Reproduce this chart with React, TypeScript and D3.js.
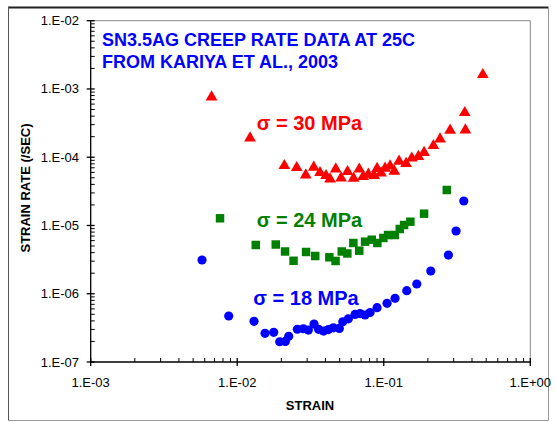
import React from "react";
import * as d3 from "d3";

const xTicks = [1e-3, 1e-2, 1e-1, 1];
const xTickLabels = ["1.E-03", "1.E-02", "1.E-01", "1.E+00"];
const yTicks = [1e-7, 1e-6, 1e-5, 1e-4, 1e-3, 1e-2];
const yTickLabels = ["1.E-07", "1.E-06", "1.E-05", "1.E-04", "1.E-03", "1.E-02"];

const titleLines = ["SN3.5AG CREEP RATE DATA AT 25C", "FROM KARIYA ET AL., 2003"];

// sigma = 30 MPa (red triangles)
const strain30 = [0.00668, 0.01223, 0.02097, 0.02547, 0.02935, 0.03328, 0.03674, 0.04037, 0.04298, 0.04703,
  0.05111, 0.0566, 0.06221, 0.06805, 0.07222, 0.07851, 0.08589, 0.09001, 0.09585, 0.1021, 0.1104, 0.1181,
  0.1272, 0.142, 0.1553, 0.1722, 0.1884, 0.2182, 0.2423, 0.2836, 0.3571, 0.3606, 0.4741];
const rate30 = [7.62e-4, 1.91e-4, 7.51e-5, 7.02e-5, 5.49e-5, 7.12e-5, 5.93e-5, 5.36e-5, 4.8e-5, 6.72e-5,
  4.96e-5, 6.14e-5, 4.91e-5, 6.68e-5, 5.18e-5, 5.62e-5, 5.4e-5, 6.84e-5, 5.87e-5, 6.88e-5, 7.44e-5, 6.22e-5,
  8.71e-5, 8.09e-5, 9.67e-5, 1.025e-4, 1.173e-4, 1.475e-4, 1.849e-4, 2.48e-4, 4.49e-4, 2.505e-4, 1.618e-3];

// sigma = 24 MPa (green squares)
const strain24 = [0.00763, 0.01338, 0.01832, 0.0212, 0.02423, 0.02949, 0.03407, 0.04252, 0.04688, 0.05168,
  0.05642, 0.06201, 0.06805, 0.07455, 0.08283, 0.09042, 0.09938, 0.107, 0.1189, 0.1286, 0.1376, 0.1519,
  0.1884, 0.2692];
const rate24 = [1.274e-5, 5.18e-6, 5.26e-6, 4.16e-6, 3.04e-6, 4.09e-6, 3.57e-6, 3.42e-6, 3.02e-6, 4.16e-6,
  3.89e-6, 5.54e-6, 4.27e-6, 5.79e-6, 6.19e-6, 5.54e-6, 6.56e-6, 7.25e-6, 7.25e-6, 8.88e-6, 1.016e-5, 1.136e-5,
  1.488e-5, 3.31e-5];

// sigma = 18 MPa (blue circles)
const strain18 = [0.00575, 0.00875, 0.01302, 0.01548, 0.01774, 0.0195, 0.0213, 0.02246, 0.02571, 0.02826,
  0.03057, 0.03343, 0.03588, 0.03882, 0.04185, 0.04529, 0.04976, 0.0525, 0.05733, 0.06369, 0.06889, 0.07455,
  0.08064, 0.09001, 0.1053, 0.1194, 0.1435, 0.168, 0.2093, 0.2761, 0.3115, 0.3516];
const rate18 = [3.12e-6, 4.72e-7, 3.95e-7, 2.63e-7, 2.72e-7, 1.98e-7, 2.0e-7, 2.38e-7, 3.02e-7, 3.07e-7,
  2.94e-7, 3.6e-7, 3.01e-7, 2.84e-7, 2.99e-7, 3.17e-7, 3.1e-7, 3.89e-7, 4.29e-7, 4.97e-7, 5.13e-7, 4.88e-7,
  5.31e-7, 6.24e-7, 7.24e-7, 8.57e-7, 1.108e-6, 1.389e-6, 2.153e-6, 3.69e-6, 8.3e-6, 2.284e-5];

const seriesLabels = ["σ = 30 MPa", "σ = 24 MPa", "σ = 18 MPa"];

const W = 556;
const H = 422;
const left = 90.7;
const right = 530.3;
const top = 20.7;
const bottom = 362;
const font = "Arial, 'Liberation Sans', sans-serif";

export default function App() {
  const x = d3.scaleLog().domain([1e-3, 1]).range([left, right]);
  const y = d3.scaleLog().domain([1e-7, 1e-2]).range([bottom, top]);

  const minorX: number[] = [];
  for (let e = -3; e < 0; e++) for (let m = 2; m <= 9; m++) minorX.push(m * Math.pow(10, e));
  const minorY: number[] = [];
  for (let e = -7; e < -2; e++) for (let m = 2; m <= 9; m++) minorY.push(m * Math.pow(10, e));

  const tri = d3.symbol().type(d3.symbolTriangle).size(60)() as string;
  const sq = d3.symbol().type(d3.symbolSquare).size(72)() as string;

  return (
    <svg width={W} height={H} style={{ position: "absolute", left: 0, top: 0, background: "#fff" }}>
      <rect x={0} y={0} width={W} height={H} fill="#fff" />
      {/* outer frame */}
      <line x1={8} x2={548.5} y1={7.5} y2={7.5} stroke="#222" strokeWidth={2} />
      <line x1={8.5} x2={8.5} y1={7} y2={420.5} stroke="#555" strokeWidth={1} />
      <line x1={8} x2={548.5} y1={420.5} y2={420.5} stroke="#999" strokeWidth={1} />
      <line x1={548.5} x2={548.5} y1={7} y2={420.5} stroke="#999" strokeWidth={1} />

      {/* plot border top/right */}
      <line x1={left} x2={right} y1={top} y2={top} stroke="#888" strokeWidth={1} />
      <line x1={right} x2={right} y1={top} y2={bottom} stroke="#888" strokeWidth={1} />

      {/* axes */}
      <line x1={left} x2={right} y1={bottom} y2={bottom} stroke="#000" strokeWidth={1.3} />
      <line x1={left} x2={left} y1={top} y2={bottom} stroke="#000" strokeWidth={1.3} />

      {minorX.map((v, i) => (
        <line key={"mx" + i} x1={x(v)} x2={x(v)} y1={bottom} y2={bottom - 4} stroke="#000" strokeWidth={1} />
      ))}
      {xTicks.map((v, i) => (
        <g key={"xt" + i}>
          <line x1={x(v)} x2={x(v)} y1={bottom + 4} y2={bottom - 4} stroke="#000" strokeWidth={1.3} />
          <text x={x(v)} y={387} textAnchor="middle" fontFamily={font} fontSize={13} fill="#000">
            {xTickLabels[i]}
          </text>
        </g>
      ))}
      {minorY.map((v, i) => (
        <line key={"my" + i} x1={left} x2={left + 4} y1={y(v)} y2={y(v)} stroke="#000" strokeWidth={1} />
      ))}
      {yTicks.map((v, i) => (
        <g key={"yt" + i}>
          <line x1={left - 4} x2={left + 4} y1={y(v)} y2={y(v)} stroke="#000" strokeWidth={1.3} />
          <text x={79} y={y(v) + 4.5} textAnchor="end" fontFamily={font} fontSize={13} fill="#000">
            {yTickLabels[i]}
          </text>
        </g>
      ))}

      <text x={310} y={410} textAnchor="middle" fontFamily={font} fontSize={13} fontWeight="bold" fill="#000">
        STRAIN
      </text>
      <text
        transform={`translate(30,188) rotate(-90)`}
        textAnchor="middle"
        fontFamily={font}
        fontSize={13}
        fontWeight="bold"
        fill="#000"
      >
        STRAIN RATE (/SEC)
      </text>

      {/* title */}
      {titleLines.map((t, i) => (
        <text key={"t" + i} x={102} y={45.7 + i * 22.6} fontFamily={font} fontSize={18} fontWeight="bold" fill="#0000FF">
          {t}
        </text>
      ))}

      {/* data */}
      {strain30.map((v, i) => (
        <path key={"r" + i} d={tri} transform={`translate(${x(v)},${y(rate30[i])})`} fill="#FF0000" />
      ))}
      {strain24.map((v, i) => (
        <path key={"g" + i} d={sq} transform={`translate(${x(v)},${y(rate24[i])})`} fill="#008000" />
      ))}
      {strain18.map((v, i) => (
        <circle key={"b" + i} cx={x(v)} cy={y(rate18[i])} r={4.6} fill="#0000FF" />
      ))}

      <text x={256.7} y={130} fontFamily={font} fontSize={20} fontWeight="bold" fill="#FF0000">{seriesLabels[0]}</text>
      <text x={256.7} y={226.7} fontFamily={font} fontSize={20} fontWeight="bold" fill="#008000">{seriesLabels[1]}</text>
      <text x={253.3} y={305} fontFamily={font} fontSize={20} fontWeight="bold" fill="#0000FF">{seriesLabels[2]}</text>
    </svg>
  );
}
